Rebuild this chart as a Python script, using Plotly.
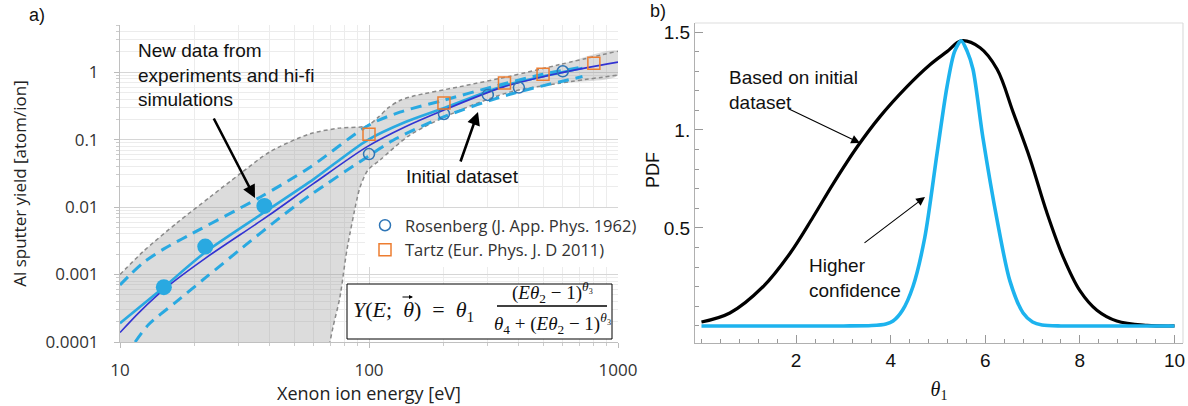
import plotly.graph_objects as go

W, H = 1188, 406

# ---------------- Panel a) : Al sputter yield vs Xe ion energy ----------------
# grey band = uncertainty of the initial dataset (upper / lower bounds)
band_up_E = [10, 12.4, 16.9, 23, 30.3, 40, 58, 76, 98, 109, 120, 133, 150, 232, 368, 585, 1000]
band_up_Y = [0.001, 0.0022, 0.0058, 0.0141, 0.031, 0.066, 0.122, 0.148, 0.16, 0.215, 0.30, 0.38,
             0.44, 0.61, 0.87, 1.30, 2.05]
band_lo_E = [68.4, 69.7, 71.7, 76.4, 81.5, 89.3, 92.1, 99, 110.7, 146, 232, 368, 585, 1000]
band_lo_Y = [7.1e-5, 1.0e-4, 1.67e-4, 4.6e-4, 2.3e-3, 0.0127, 0.0198, 0.0353, 0.0497, 0.117,
             0.273, 0.506, 0.687, 0.903]
band_floor = 1e-5   # band extends below the axis for low energies

# initial-dataset fit (dark blue)
fit0_E = [10, 12, 15.4, 22, 38.9, 60, 98, 140, 198, 345, 585, 1000]
fit0_Y = [1.38e-4, 2.8e-4, 6.5e-4, 1.74e-3, 7.2e-3, 0.0224, 0.078, 0.155, 0.27, 0.60, 0.97, 1.41]

# updated fit (light blue) and its bounds (light blue dashed)
fit1_E = [10, 15, 22, 38, 60, 98, 140, 198, 345, 585, 720]
fit1_Y = [1.9e-4, 6.5e-4, 2.14e-3, 8.4e-3, 0.026, 0.097, 0.182, 0.29, 0.62, 0.98, 1.15]
fit1_up_E = [10, 11, 12.4, 15, 19.6, 36.5, 58, 100, 133, 198, 315, 500, 720]
fit1_up_Y = [7e-4, 1.0e-3, 1.5e-3, 2.4e-3, 4.1e-3, 0.014, 0.039, 0.165, 0.255, 0.38, 0.61, 0.93, 1.19]
fit1_lo_E = [11.5, 13, 16.9, 22, 31.2, 45, 58, 98, 125, 198, 368, 720]
fit1_lo_Y = [1e-4, 1.8e-4, 4.0e-4, 8.9e-4, 2.55e-3, 7.5e-3, 0.015, 0.055, 0.098, 0.215, 0.47, 0.86]

# new data (experiments & hi-fi simulations)
new_E = [15, 22, 38]
new_Y = [6.5e-4, 2.6e-3, 0.0104]

# literature data
ros_E = [100, 200, 300, 400, 600]
ros_Y = [0.061, 0.24, 0.46, 0.59, 1.03]
tartz_E = [100, 200, 350, 500, 800]
tartz_Y = [0.12, 0.35, 0.69, 0.93, 1.36]

x_ticks = [10, 100, 1000]
x_ticktext = ["10", "100", "1000"]
y_ticks = [1e-4, 1e-3, 1e-2, 0.1, 1]
y_ticktext = ["0.0001", "0.001", "0.01", "0.1", "1"]

# ---------------- Panel b) : PDF of theta_1 ----------------
pdf_init_t = [0.0, 0.6, 1.3, 1.87, 2.36, 2.78, 3.29, 3.77, 4.34, 4.83, 5.19, 5.49, 5.89, 6.25,
              6.59, 6.95, 7.3, 7.65, 8.0, 8.36, 8.78, 9.42, 10.0]
pdf_init_v = [0.02, 0.066, 0.2, 0.37, 0.556, 0.724, 0.913, 1.067, 1.22, 1.333, 1.40, 1.455, 1.42,
              1.31, 1.09, 0.85, 0.58, 0.35, 0.18, 0.08, 0.025, 0.003, 0.0]
pdf_new_t = [0.0, 1.0, 2.0, 3.0, 3.6, 3.9, 4.05, 4.25, 4.47, 4.72, 4.98, 5.19, 5.35, 5.49, 5.62,
             5.74, 5.95, 6.25, 6.52, 6.8, 7.0, 7.2, 7.6, 8.5, 10.0]
pdf_new_v = [0, 0, 0, 0, 0.002, 0.01, 0.025, 0.08, 0.2, 0.45, 0.88, 1.22, 1.40, 1.455, 1.40,
             1.31, 0.96, 0.54, 0.23, 0.066, 0.02, 0.005, 0, 0, 0]
b_xticks = [2, 4, 6, 8, 10]
b_yticks = [0.5, 1.0, 1.5]
b_yticktext = ["0.5", "1.", "1.5"]

# ---------------- styling ----------------
LB = "#29a9e1"
DB = "#3232d2"
GRAYD = "#8a8a8a"
SANS = "Liberation Sans"
TICKF = "Open Sans"
SERIF = "Liberation Serif"


def px(x):
    return x / W


def py(y):
    return 1 - y / H


fig = go.Figure()

# grey band fill
fig.add_trace(go.Scatter(
    x=band_up_E + band_lo_E[::-1] + [band_lo_E[0], band_up_E[0]],
    y=band_up_Y + band_lo_Y[::-1] + [band_floor, band_floor],
    fill="toself", fillcolor="rgba(150,150,150,0.33)", mode="lines",
    line=dict(width=0, shape="spline", smoothing=0.8), hoverinfo="skip",
    showlegend=False, xaxis="x", yaxis="y"))
for ex, ey in [(band_up_E, band_up_Y), (band_lo_E, band_lo_Y)]:
    fig.add_trace(go.Scatter(x=ex, y=ey, mode="lines", showlegend=False,
                             line=dict(color=GRAYD, width=1.5, dash="4px,3px",
                                       shape="spline", smoothing=0.8),
                             xaxis="x", yaxis="y"))
# light-blue dashed bounds
for ex, ey in [(fit1_up_E, fit1_up_Y), (fit1_lo_E, fit1_lo_Y)]:
    fig.add_trace(go.Scatter(x=ex, y=ey, mode="lines", showlegend=False,
                             line=dict(color=LB, width=3, dash="11px,7px",
                                       shape="spline", smoothing=0.8),
                             xaxis="x", yaxis="y"))
# fits
fig.add_trace(go.Scatter(x=fit1_E, y=fit1_Y, mode="lines", showlegend=False,
                         line=dict(color=LB, width=2.6, shape="spline", smoothing=0.8),
                         xaxis="x", yaxis="y"))
fig.add_trace(go.Scatter(x=fit0_E, y=fit0_Y, mode="lines", showlegend=False,
                         line=dict(color=DB, width=1.6, shape="spline", smoothing=0.8),
                         xaxis="x", yaxis="y"))
# new data
fig.add_trace(go.Scatter(x=new_E, y=new_Y, mode="markers", showlegend=False,
                         marker=dict(color=LB, size=16), xaxis="x", yaxis="y"))
# literature
fig.add_trace(go.Scatter(x=ros_E, y=ros_Y, mode="markers", name="Rosenberg (J. App. Phys. 1962)",
                         marker=dict(symbol="circle-open", color="#2e75b6", size=11,
                                     line=dict(width=1.5)), xaxis="x", yaxis="y"))
fig.add_trace(go.Scatter(x=tartz_E, y=tartz_Y, mode="markers", name="Tartz (Eur. Phys. J. D 2011)",
                         marker=dict(symbol="square-open", color="#ed7d31", size=12,
                                     line=dict(width=1.5)), xaxis="x", yaxis="y"))

# panel b curves
fig.add_trace(go.Scatter(x=pdf_init_t, y=pdf_init_v, mode="lines", showlegend=False,
                         line=dict(color="black", width=3.2, shape="spline", smoothing=1.0),
                         xaxis="x2", yaxis="y2"))
fig.add_trace(go.Scatter(x=pdf_new_t, y=pdf_new_v, mode="lines", showlegend=False,
                         line=dict(color="#1db3ee", width=3.6, shape="spline", smoothing=0.8),
                         xaxis="x2", yaxis="y2"))

minor_log = [d * 10 ** k for k in range(-4, 3) for d in range(2, 10)]

fig.update_layout(
    width=W, height=H, margin=dict(l=0, r=0, t=0, b=0),
    paper_bgcolor="white", plot_bgcolor="white",
    showlegend=True,
    legend=dict(x=px(365), y=py(208), xanchor="left", yanchor="top", bgcolor="white",
                font=dict(family=TICKF, size=16.5, color="#333"), itemwidth=30,
                tracegroupgap=0, borderwidth=0),
    xaxis=dict(type="log", range=[1, 3], domain=[px(120), px(618)], anchor="y",
               automargin=False,
               tickvals=x_ticks, ticktext=x_ticktext, showgrid=True, gridcolor="#d6d6d6",
               ticks="outside", ticklen=5, tickcolor="#bbbbbb", showline=True,
               linecolor="#c0c0c0", zeroline=False, ticklabelstandoff=8,
               minor=dict(tickvals=minor_log, showgrid=True, gridcolor="#ececec",
                          ticks="outside", ticklen=3, tickcolor="#cccccc"),
               tickfont=dict(family=TICKF, size=17, color="#333"),
               title=dict(text="Xenon ion energy [eV]", standoff=0,
                          font=dict(family=TICKF, size=18, color="#222"))),
    yaxis=dict(type="log", range=[-4, 0.699], domain=[py(342), py(25)], anchor="x",
               automargin=False,
               tickvals=y_ticks, ticktext=y_ticktext, showgrid=True, gridcolor="#d6d6d6",
               ticks="outside", ticklen=5, tickcolor="#bbbbbb", showline=True,
               linecolor="#c0c0c0", zeroline=False, ticklabelstandoff=12,
               minor=dict(tickvals=minor_log, showgrid=True, gridcolor="#ececec",
                          ticks="outside", ticklen=3, tickcolor="#cccccc"),
               tickfont=dict(family=TICKF, size=17, color="#333"),
               title=dict(text="Al sputter yield [atom/ion]", standoff=14,
                          font=dict(family=TICKF, size=17, color="#222"))),
    xaxis2=dict(range=[-0.137, 10.18], domain=[px(695), px(1183)], anchor="y2",
                automargin=False,
                tickvals=b_xticks, showgrid=False, zeroline=False,
                ticks="inside", ticklen=8, tickcolor="#999999", showline=True,
                linecolor="#b0b0b0",
                minor=dict(tick0=0, dtick=0.4, ticks="inside", ticklen=4, tickcolor="#999999"),
                tickfont=dict(family=SANS, size=19, color="#111"),
                title=dict(text="<i>θ</i><sub>1</sub>", standoff=12,
                           font=dict(family=SERIF, size=20, color="#111"))),
    yaxis2=dict(range=[-0.087, 1.546], domain=[py(343), py(23)], anchor="x2",
                automargin=False,
                tickvals=b_yticks, ticktext=b_yticktext, showgrid=False, zeroline=False,
                ticks="inside", ticklen=8, tickcolor="#999999", showline=True,
                linecolor="#b0b0b0",
                minor=dict(tick0=0, dtick=0.1, ticks="inside", ticklen=4, tickcolor="#999999"),
                tickfont=dict(family=SANS, size=19, color="#111")),
)

shapes = [
    # frame of panel b (top / right)
    dict(type="line", xref="x2 domain", yref="y2 domain", x0=0, x1=1, y0=1, y1=1,
         line=dict(color="#dddddd", width=1.2)),
    dict(type="line", xref="x2 domain", yref="y2 domain", x0=1, x1=1, y0=0, y1=1,
         line=dict(color="#dddddd", width=1.2)),
    # equation box
    dict(type="rect", xref="paper", yref="paper", x0=px(347), x1=px(612), y0=py(339), y1=py(284),
         line=dict(color="black", width=1), fillcolor="white", layer="above"),
    dict(type="line", xref="paper", yref="paper", x0=px(497), x1=px(607), y0=py(306), y1=py(306),
         line=dict(color="black", width=1.3), layer="above"),
]

ann = []


def text(x, y, s, size=19, family=SANS, xanchor="left", color="#111", align="left", angle=0):
    ann.append(dict(x=px(x), y=py(y), xref="paper", yref="paper", text=s, showarrow=False,
                    xanchor=xanchor, yanchor="middle", align=align, textangle=angle,
                    font=dict(family=family, size=size, color=color)))


def arrow(x_tip, y_tip, x_tail, y_tail, width, head=2, size=1.0):
    ann.append(dict(x=px(x_tip), y=py(y_tip), xref="paper", yref="paper", text="",
                    showarrow=True, ax=x_tail - x_tip, ay=y_tail - y_tip,
                    axref="pixel", ayref="pixel", arrowhead=head, arrowwidth=width,
                    arrowsize=size, arrowcolor="black"))


text(27, 15, "a)", size=18)
text(648, 11, "b)", size=18)
text(653, 170, "PDF", size=18, xanchor="center", angle=-90)
text(136, 75, "New data from<br>experiments and hi-fi<br>simulations", size=19)
arrow(255, 198, 213, 117, 2.6)
text(462, 176, "Initial dataset", size=19, xanchor="center")
arrow(478, 112, 460, 163, 2.6)
text(727, 90, "Based on initial<br>dataset", size=19)
arrow(860, 143, 787, 108, 1.1, size=1.6)
text(807, 278, "Higher<br>confidence", size=19)
arrow(925, 197, 863, 244, 1.1, size=1.6)

# equation  Y(E; θ) = θ1 (Eθ2 − 1)^θ3 / (θ4 + (Eθ2 − 1)^θ3)
text(351, 311, "<i>Y</i>(<i>E</i>;&nbsp; <i>θ</i>)&nbsp; =&nbsp; <i>θ</i><sub>1</sub>", size=22,
     family=SERIF)
arrow(413, 297, 401, 297, 1.0, head=2, size=0.8)   # vector arrow over theta
text(552, 292, "(<i>Eθ</i><sub>2</sub> − 1)<sup><i>θ</i>₃</sup>", size=19, family=SERIF,
     xanchor="center")
text(552, 323, "<i>θ</i><sub>4</sub> + (<i>Eθ</i><sub>2</sub> − 1)<sup><i>θ</i>₃</sup>", size=19,
     family=SERIF, xanchor="center")

fig.update_layout(shapes=shapes, annotations=ann)

fig.write_html("out.html", config={"displayModeBar": False},
               post_script="document.body.style.margin='0';")
